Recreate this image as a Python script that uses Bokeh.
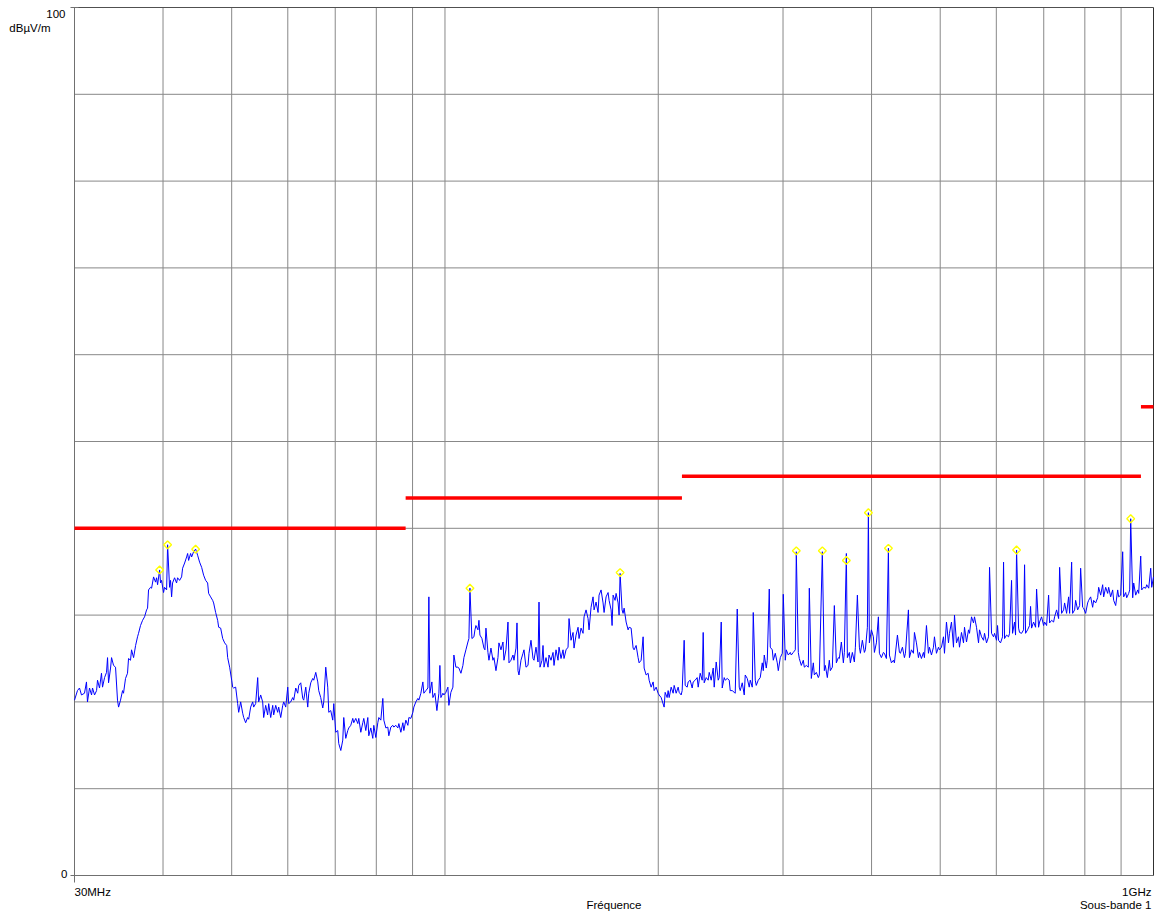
import math
from bokeh.plotting import figure
from bokeh.models import Range1d
from bokeh.core.properties import value
from bokeh.embed import file_html
from bokeh.resources import INLINE

# ---- measured spectrum (frequency in MHz, level in dBµV/m) ----
freq_mhz = [
    30.00, 30.29, 30.49, 30.69, 30.99, 31.19, 31.29, 31.50, 31.71, 31.81,
    32.02, 32.23, 32.33, 32.54, 32.75, 32.86, 33.08, 33.29, 33.40, 33.51,
    33.73, 33.84, 34.06, 34.28, 34.50, 34.62, 34.84, 35.07, 35.18, 35.41,
    35.64, 35.76, 35.99, 36.11, 36.35, 36.59, 36.82, 36.94, 37.18, 37.43,
    37.67, 37.92, 38.04, 38.16, 38.41, 38.54, 38.79, 39.04, 39.17, 39.30,
    39.56, 39.68, 39.81, 40.07, 40.20, 40.47, 40.60, 40.86, 40.99, 41.13,
    41.26, 41.53, 41.80, 41.94, 42.21, 42.49, 42.63, 42.91, 43.19, 43.33,
    43.47, 43.75, 43.90, 44.18, 44.47, 44.76, 45.05, 45.35, 45.64, 45.94,
    46.24, 46.39, 46.69, 47.00, 47.15, 47.46, 47.77, 47.93, 48.24, 48.56,
    48.87, 49.19, 49.35, 49.67, 50.00, 50.16,
    50.32, 50.65, 50.98, 51.15, 51.48, 51.82, 51.99, 52.32, 52.67, 52.84,
    53.18, 53.53, 53.70, 54.05, 54.41, 54.58, 54.94, 55.30, 55.48, 55.84,
    56.20, 56.39, 56.76, 57.13, 57.31, 57.69, 58.06, 58.25, 58.64, 59.02,
    59.21, 59.60, 59.99, 60.18, 60.57, 60.97, 61.17, 61.57, 61.97, 62.17,
    62.58, 62.99, 63.19, 63.61, 64.02, 64.23, 64.65, 65.07, 65.28, 65.71,
    66.14, 66.35, 66.78, 67.22, 67.44, 67.88, 68.32, 68.55, 68.99, 69.44,
    69.67, 70.12, 70.58, 70.81, 71.28, 71.74, 71.97, 72.44, 72.92, 73.15,
    73.63, 74.11, 74.35, 74.84, 75.33, 75.57, 76.07, 76.56, 76.81, 77.31,
    77.82, 78.07, 78.58, 79.09, 79.35, 79.87, 80.39, 80.66, 81.18, 81.71,
    81.98, 82.52, 83.05, 83.32, 83.87, 84.41, 84.69, 85.24, 85.80, 86.08,
    86.64, 87.21, 87.49, 88.06, 88.64, 88.93, 89.50, 90.09, 90.38, 90.97,
    91.57, 91.87, 92.47, 93.07, 93.37, 93.98, 94.60, 94.90, 95.21, 95.83,
    96.15, 96.78, 97.41, 98.04, 98.36, 98.68, 99.33, 99.65,
    100.30, 100.95, 101.28, 101.94, 102.61, 102.94, 103.61, 104.29, 104.63, 105.32,
    106.00, 106.35, 107.04, 107.74, 108.09, 108.45, 109.15, 109.87, 110.23, 110.58,
    111.31, 111.67, 112.03, 112.76, 113.50, 113.87, 114.24, 114.99, 115.36, 116.12,
    116.87, 117.25, 118.02, 118.79, 119.17, 119.96, 120.74, 121.13, 121.92, 122.72,
    123.12, 123.92, 124.73, 125.14, 125.96, 126.37, 126.78, 127.19, 128.02, 128.86,
    129.28, 130.12, 130.97, 131.40, 132.25, 133.12, 133.55, 134.42, 135.30, 135.74,
    136.18, 137.07, 137.52, 137.97, 138.87, 139.78, 140.23, 141.15, 142.07, 142.53,
    143.46, 144.40, 144.87, 145.81, 146.76, 147.24, 148.21, 149.17, 149.66, 150.64,
    151.62, 152.11, 153.11, 154.11, 154.61, 155.62, 156.63, 157.14, 158.17, 159.20,
    159.72, 160.76, 161.81, 162.34, 163.40, 164.46, 164.99, 166.08, 167.16, 167.71,
    168.81, 169.91, 170.46, 171.58, 172.13, 172.70, 173.82, 174.39, 175.53, 176.10,
    176.67, 177.82, 178.40, 178.99, 180.16, 181.33, 181.92, 183.11, 184.30, 184.90,
    186.11, 187.32, 187.93, 189.17, 190.40, 191.02, 192.27, 193.52, 194.15, 195.42,
    196.69, 197.34, 198.63, 199.92, 200.57, 201.89, 203.86, 204.53, 205.86, 206.53,
    207.21, 208.56, 209.92, 210.61, 211.98, 213.36, 214.06, 215.46,
    216.16, 217.57, 218.28, 219.71, 220.42, 221.86, 223.31, 224.04, 225.50, 226.97,
    227.71, 229.20, 230.70, 231.45, 232.20, 233.72, 235.24, 236.01, 237.55, 239.10,
    239.88, 241.45, 243.02, 243.82, 245.41, 246.21, 247.81, 248.62, 250.25, 251.88,
    252.70, 254.35, 256.01, 256.84, 258.52, 260.20, 261.06, 262.76, 264.47, 265.34,
    267.07, 268.81, 269.69, 271.45, 272.33, 274.11, 275.00, 276.80, 278.61, 280.43,
    281.34, 282.26, 284.10, 285.03, 286.89, 287.82, 289.70, 290.65, 292.54, 294.45,
    295.41, 297.34, 299.28, 300.25, 302.22, 303.20, 305.18, 307.17, 308.17, 310.18,
    312.21, 313.23, 315.27, 316.30, 318.37, 320.44, 321.49, 323.59, 325.70, 326.76,
    328.90, 331.04, 332.12, 334.29, 336.47, 337.57, 340.88, 343.10, 344.22, 346.47,
    348.73, 349.87, 352.15, 354.45, 356.77, 359.10, 360.27, 362.62, 364.99, 366.17,
    368.57, 369.77, 372.18, 373.39, 375.83, 378.28, 379.52, 382.00, 384.49, 385.74,
    388.26, 390.79, 392.07, 394.63, 395.91, 397.20, 399.80, 402.40, 403.72, 406.35,
    409.00, 410.34, 413.02, 415.72, 417.07, 419.79, 422.53, 423.91, 426.68, 429.46,
    430.86, 435.09, 437.93, 439.36, 442.23, 445.11, 446.56, 450.94, 452.41, 455.37,
    458.34, 459.83, 462.83, 465.85, 467.37, 470.42, 473.49, 475.03, 478.14, 481.26,
    482.83, 485.98, 489.15, 490.75, 493.95, 497.17, 498.79, 502.05, 505.32, 506.97,
    510.29, 513.61, 515.29, 518.66, 522.04, 523.74, 527.16, 530.61, 532.34, 535.81,
    539.31, 541.07, 544.60, 548.16, 549.94, 553.53, 557.15, 558.96, 562.61, 566.28,
    568.13, 571.84,
    575.57, 577.45, 581.21, 585.01, 586.92, 590.75, 594.61, 596.55, 600.44, 602.40,
    604.37, 608.30, 612.27, 614.27, 616.27, 620.29, 624.33, 626.37, 630.47, 632.52,
    636.65, 638.72, 640.81, 644.99, 647.09, 651.32, 655.58, 657.71, 659.85, 664.16,
    668.49, 670.67, 672.86, 677.25, 681.67, 683.89, 688.36, 690.60, 695.11, 699.65,
    701.93, 706.51, 711.12, 713.44, 718.10, 722.79, 725.14, 729.87, 734.64, 737.03,
    741.85, 746.69, 749.12, 754.01, 758.94, 761.41, 766.38, 768.88, 773.90, 776.42,
    781.49, 786.59, 789.15, 794.30, 796.89, 802.09, 807.33, 809.96, 815.25, 820.57,
    823.25, 828.62, 834.03, 836.75, 842.21, 847.71, 850.47, 856.02, 861.61, 864.42,
    870.06, 875.74, 878.59, 884.33, 890.10, 893.00, 898.84, 904.70, 907.65, 913.58,
    916.56, 922.54, 925.54, 928.56, 934.62, 937.67, 943.79, 949.95, 953.05, 959.27,
    962.40, 968.68, 975.00, 978.18, 984.56, 990.99, 994.22, 1000.0,
]

level_dbuv = [
    20.2, 21.3, 21.6, 20.8, 21.0, 22.3, 20.0, 21.6, 20.8, 21.6,
    20.8, 21.3, 22.5, 21.6, 23.3, 21.7, 22.8, 23.4, 25.1, 22.2,
    23.9, 25.1, 24.2, 24.0, 20.2, 19.4, 20.2, 21.3, 21.0, 22.7,
    23.3, 25.0, 24.8, 26.0, 25.1, 26.5, 27.5, 27.9, 28.8, 29.4,
    29.8, 30.6, 30.8, 32.9, 33.2, 33.1, 34.4, 33.8, 34.3, 33.5,
    35.2, 33.7, 34.0, 32.6, 33.2, 32.9, 38.1, 33.2, 34.0, 32.1,
    33.7, 34.3, 33.7, 34.3, 34.0, 34.4, 35.4, 36.0, 36.7, 37.1,
    36.3, 37.1, 36.7, 37.3, 37.6, 36.9, 36.1, 35.5, 34.6, 34.0,
    33.7, 32.5, 32.1, 31.7, 31.4, 30.3, 29.4, 28.6, 28.5, 27.3,
    26.8, 26.5, 25.1, 24.0, 22.5, 21.7,
    21.6, 21.7, 19.8, 18.8, 20.0, 18.7, 18.2, 17.6, 18.2, 18.0,
    19.4, 20.0, 19.4, 19.8, 22.8, 20.0, 20.8, 20.0, 18.2, 19.6,
    18.5, 19.8, 18.2, 19.6, 18.5, 19.6, 18.8, 19.4, 18.2, 19.6,
    20.0, 19.4, 21.7, 19.8, 20.0, 20.5, 20.2, 21.6, 21.0, 21.9,
    22.2, 20.4, 20.2, 21.7, 19.4, 21.0, 22.2, 22.7, 22.5, 23.4,
    22.3, 21.3, 20.5, 19.3, 20.0, 24.0, 21.7, 18.8, 19.0, 17.9,
    19.8, 16.5, 16.7, 15.2, 14.4, 15.6, 18.2, 15.8, 16.7, 17.0,
    17.3, 18.1, 17.6, 18.1, 17.5, 18.1, 16.5, 17.6, 18.1, 16.7,
    18.2, 16.1, 17.0, 15.8, 17.3, 15.9, 17.6, 18.2, 17.9, 20.4,
    17.9, 17.0, 17.1, 16.1, 17.1, 17.3, 17.1, 17.3, 17.0, 17.5,
    16.5, 17.6, 16.7, 17.9, 17.3, 18.2, 18.1, 18.8, 19.4, 20.0,
    20.4, 20.2, 21.0, 22.3, 21.0, 21.3, 21.6, 32.1, 21.0, 22.3,
    20.5, 21.0, 19.0, 21.0, 24.2, 20.5, 21.0, 20.8,
    21.1, 21.7, 19.6, 21.1, 21.7, 25.4, 24.0, 24.0, 23.9, 23.3,
    24.2, 25.1, 26.0, 26.9, 27.3, 33.1, 27.3, 27.5, 28.3, 28.8,
    28.3, 29.4, 27.7, 27.3, 26.2, 26.0, 28.5, 25.7, 24.8, 26.2,
    24.8, 25.1, 23.6, 25.1, 26.8, 26.0, 26.9, 24.8, 26.0, 29.2,
    24.5, 24.8, 25.4, 24.8, 26.2, 29.1, 23.6, 23.1, 24.8, 25.6,
    26.0, 24.0, 24.2, 25.6, 27.1, 25.0, 24.8, 26.3, 24.6, 31.5,
    24.0, 24.8, 26.5, 24.0, 25.1, 24.0, 25.4, 24.8, 25.7, 24.2,
    26.0, 24.8, 26.3, 25.0, 26.0, 25.0, 26.0, 26.3, 29.6, 27.1,
    28.0, 26.2, 27.7, 28.6, 27.3, 28.5, 27.9, 29.8, 30.6, 29.6,
    28.3, 30.9, 32.1, 30.6, 31.5, 30.3, 32.3, 32.9, 31.4, 30.3,
    32.1, 32.6, 31.7, 30.6, 28.8, 32.3, 31.7, 32.5, 31.4, 30.0,
    34.8, 30.6, 30.2, 30.8, 29.2, 28.3, 28.6, 28.5, 26.2, 26.0,
    26.5, 25.1, 24.5, 24.8, 27.5, 23.9, 23.1, 23.3, 22.5, 21.7,
    22.3, 21.3, 21.7, 21.0, 20.8, 20.5, 19.4, 21.1, 20.5, 21.3,
    20.5, 21.7, 21.0, 21.9, 21.0, 21.7, 21.1, 20.8,
    21.3, 27.1, 21.9, 21.7, 22.3, 22.5, 21.6, 22.3, 22.5, 22.8,
    21.7, 23.3, 22.5, 28.0, 22.2, 22.8, 22.5, 23.4, 22.5, 23.9,
    21.7, 24.6, 22.5, 22.8, 29.2, 21.6, 22.8, 22.5, 22.7, 22.5,
    21.3, 21.3, 21.1, 21.0, 30.7, 21.7, 21.3, 22.2, 20.8, 23.1,
    22.7, 21.7, 22.5, 21.7, 30.3, 22.5, 21.9, 22.5, 22.8, 24.5,
    23.6, 25.4, 23.9, 24.8, 33.0, 26.3, 26.0, 24.8, 25.6, 24.5,
    23.6, 25.1, 25.6, 32.4, 24.8, 26.0, 25.4, 25.7, 25.4, 25.7,
    26.0, 37.3, 25.7, 25.0, 24.2, 24.8, 24.0, 24.2, 24.0, 33.1,
    22.7, 24.5, 23.1, 23.4, 22.8, 23.1, 37.3, 23.6, 24.2, 22.8,
    24.8, 23.6, 24.0, 31.1, 24.5, 25.1, 25.0, 26.9, 24.5, 25.7,
    37.1, 25.1, 25.7, 24.5, 25.7, 24.6, 26.3, 32.3, 26.3, 25.6,
    27.1, 25.7, 26.0, 28.6, 41.8, 26.8, 28.3, 27.5, 25.7, 26.8,
    29.8, 25.6, 25.1, 25.7, 25.6, 25.0, 37.7, 25.4, 24.5, 24.8,
    24.5, 27.7, 25.7, 25.6, 26.3, 25.1, 25.6, 30.6, 25.1, 26.0,
    25.6, 28.0, 26.8, 25.1, 25.7, 25.0, 25.7, 25.1, 28.8, 25.6,
    26.3, 25.4, 26.3, 27.5, 25.6, 26.3, 26.0, 26.3, 27.5, 25.6,
    29.2, 26.8, 27.9, 29.2, 26.3, 30.0, 26.8, 27.5, 26.3, 28.0,
    26.8, 28.6, 26.9, 28.3, 27.9, 29.8, 29.1, 29.8, 28.6, 26.8,
    28.3, 27.5,
    27.1, 27.9, 26.8, 27.5, 35.5, 27.9, 27.5, 27.9, 27.1, 28.8,
    27.1, 26.8, 27.5, 36.1, 27.3, 27.7, 27.5, 27.9, 34.0, 27.9,
    29.2, 27.7, 37.5, 28.5, 28.0, 27.9, 28.3, 35.8, 27.9, 28.3,
    28.8, 31.0, 28.5, 29.2, 28.6, 33.0, 28.6, 29.2, 29.8, 28.8,
    29.2, 28.8, 32.3, 29.1, 29.4, 29.2, 29.8, 30.6, 29.6, 35.5,
    30.2, 30.6, 31.4, 30.2, 32.1, 30.2, 36.1, 30.2, 30.6, 31.7,
    30.6, 31.1, 35.4, 30.9, 30.8, 30.2, 31.4, 31.7, 32.1, 30.9,
    31.7, 31.4, 32.0, 33.2, 32.3, 33.5, 32.1, 33.2, 32.5, 33.2,
    32.1, 32.9, 31.7, 31.1, 32.9, 32.1, 32.3, 37.3, 32.1, 32.6,
    32.0, 32.5, 32.9, 41.1, 32.0, 33.7, 32.3, 32.9, 32.5, 36.8,
    32.9, 33.2, 33.1, 33.5, 33.1, 35.4, 33.2, 34.4,
]

# ---- peak markers ----
peak_freq = [39.56, 40.60, 44.47, 108.45, 176.67, 313.23, 340.88, 368.57,
             395.91, 422.53, 640.81, 928.56]
peak_level = [35.2, 38.1, 37.6, 33.1, 34.9, 37.4, 37.4, 36.3,
              41.8, 37.7, 37.5, 41.1]

# ---- limit line ----
limit_start = [30, 88, 216, 960]
limit_end = [88, 216, 960, 1000]
limit_level = [40, 43.5, 46, 54]

# ---- axes / grid ----
f_min, f_max = 30, 1000
y_min, y_max = 0, 100
x_grid = [40, 50, 60, 70, 80, 90, 100, 200, 300, 400, 500, 600, 700, 800, 900]
y_grid = [10, 20, 30, 40, 50, 60, 70, 80, 90]

# ---- layout (pixels) ----
W, H = 1154, 913
PL, PR, PT, PB = 74, 1153, 7, 875   # plot-area edges on the canvas

dec_per_px = (math.log10(f_max) - math.log10(f_min)) / (PR - PL)
x_lo = 10 ** (math.log10(f_min) - PL * dec_per_px)
x_hi = 10 ** (math.log10(f_max) + (W - PR) * dec_per_px)
db_per_px = (y_max - y_min) / (PB - PT)
y_lo = y_min - (H - PB) * db_per_px
y_hi = y_max + PT * db_per_px

p = figure(width=W, height=H, x_axis_type="log",
           x_range=Range1d(x_lo, x_hi), y_range=Range1d(y_lo, y_hi),
           output_backend="svg", toolbar_location=None,
           min_border_left=0, min_border_right=0,
           min_border_top=0, min_border_bottom=0)
p.xaxis.visible = False
p.yaxis.visible = False
p.xgrid.visible = False
p.ygrid.visible = False
p.outline_line_color = None
p.background_fill_color = "white"
p.border_fill_color = "white"

GRID = "#888888"
# grid lines limited to the plot area
p.segment(x0=x_grid, y0=y_min, x1=x_grid, y1=y_max,
          line_color=GRID, line_width=1)
p.segment(x0=f_min, y0=y_grid, x1=f_max, y1=y_grid,
          line_color=GRID, line_width=1)
# plot-area border
p.segment(x0=[f_min], y0=[y_min], x1=[f_max], y1=[y_min],
          line_color="#707070", line_width=1)
p.segment(x0=[f_min], y0=[y_min], x1=[f_min], y1=[y_max],
          line_color="#707070", line_width=1)
p.segment(x0=[f_min], y0=[y_max], x1=[f_max], y1=[y_max],
          line_color="#505050", line_width=1)
p.segment(x0=[f_max], y0=[y_min], x1=[f_max], y1=[y_max],
          line_color="#303030", line_width=1)
# small tick marks at the corners
p.scatter([f_min, f_min], [y_min, y_max], marker="dash", size=8,
          line_color="#707070", line_width=1)
p.scatter([f_min], [y_min], marker="dash", angle=math.pi / 2, size=14,
          line_color="#707070", line_width=1)

# limit line
p.segment(x0=limit_start, y0=limit_level, x1=limit_end, y1=limit_level,
          line_color="#ff0000", line_width=3.5)

# measured trace
p.line(freq_mhz, level_dbuv, line_color="#0000ff", line_width=1)

# peak markers (yellow diamonds)
p.scatter(peak_freq, peak_level, marker="square", angle=math.pi / 4, size=5.5,
          fill_color=None, line_color="#ffff00", line_width=1.4)

FONT = value("Liberation Sans")
FSIZE = value("11.5px")


def add_text(x, y, txt, align, xo, yo):
    p.text(x=[x], y=[y], text=[txt], text_align=align,
           text_baseline="alphabetic", x_offset=xo, y_offset=yo,
           text_font=FONT, text_font_size=FSIZE, text_color="#000000")


f_mid = math.sqrt(f_min * f_max)
add_text(f_min, y_max, "100", "right", -9, 6)
add_text(f_min, y_max, "dBµV/m", "right", -24, 20)
add_text(f_min, y_min, "0", "right", -7, -2)
add_text(f_min, y_min, "30MHz", "left", 0, 16)
add_text(f_max, y_min, "1GHz", "right", -2, 16)
add_text(f_mid, y_min, "Fréquence", "center", 0, 29)
add_text(f_max, y_min, "Sous-bande 1", "right", -2, 29)

open("out.html", "w").write(file_html(p, INLINE))
